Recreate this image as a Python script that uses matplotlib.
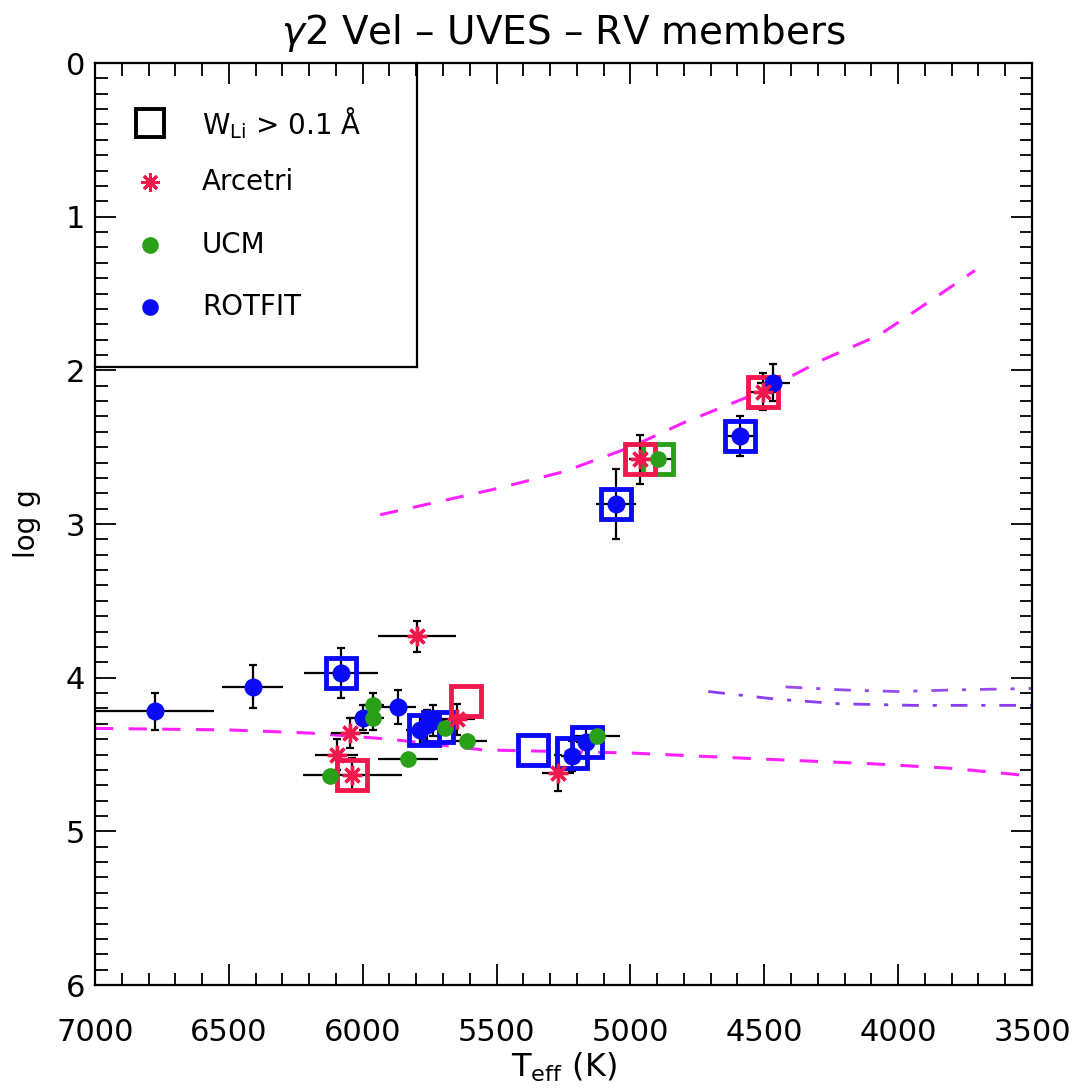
import numpy as np
import matplotlib
matplotlib.use("Agg")
import matplotlib.pyplot as plt

plt.rcParams['font.family'] = ['DejaVu Sans']

# Arcetri (red asterisks): Teff, logg, errors
arc_teff = [5798, 6047, 6097, 6039, 5649, 5270, 4964, 4506]
arc_logg = [3.73, 4.36, 4.50, 4.63, 4.27, 4.62, 2.58, 2.14]
arc_eteff = [145, 72, 81, 184, 68, 59, 40, 62]
arc_elogg = [0.10, 0.10, 0.10, 0.11, 0.10, 0.12, 0.16, 0.12]
arc_li_teff = [6039, 5614, 4964, 4506]
arc_li_logg = [4.63, 4.15, 2.58, 2.14]

# UCM (green circles)
ucm_teff = [5960, 5960, 6122, 5830, 5693, 5612, 5124, 4896]
ucm_logg = [4.18, 4.26, 4.64, 4.53, 4.33, 4.41, 4.38, 2.58]
ucm_eteff = [40, 40, 0, 112, 0, 75, 85, 56]
ucm_elogg = [0.08, 0.08, 0, 0, 0, 0, 0, 0]
ucm_li_teff = [4896]
ucm_li_logg = [2.58]

# ROTFIT (blue circles)
rot_teff = [6776, 6411, 6081, 5998, 5867, 5787, 5761, 5737, 5220, 5165, 5054, 4591, 4466]
rot_logg = [4.22, 4.06, 3.97, 4.26, 4.19, 4.34, 4.31, 4.28, 4.51, 4.42, 2.87, 2.43, 2.08]
rot_eteff = [220, 114, 138, 60, 65, 50, 40, 50, 40, 40, 75, 58, 62]
rot_elogg = [0.12, 0.14, 0.16, 0.08, 0.11, 0.10, 0.10, 0.10, 0.10, 0.10, 0.23, 0.13, 0.12]
rot_li_teff = [6081, 5772, 5718, 5363, 5220, 5163, 5054, 4591]
rot_li_logg = [3.97, 4.34, 4.32, 4.47, 4.49, 4.42, 2.87, 2.43]

# isochrone / track curves
giant_teff = [5935, 5500, 5250, 5000, 4800, 4500, 4280, 4070, 3856, 3713]
giant_logg = [2.94, 2.77, 2.66, 2.50, 2.34, 2.13, 1.93, 1.77, 1.52, 1.35]
ms_teff = [7000, 6500, 6200, 5900, 5550, 5000, 4500, 4100, 3800, 3500]
ms_logg = [4.33, 4.34, 4.36, 4.40, 4.47, 4.49, 4.53, 4.56, 4.59, 4.64]
pms1_teff = [4420, 4200, 4000, 3800, 3500]
pms1_logg = [4.06, 4.08, 4.09, 4.08, 4.07]
pms2_teff = [4709, 4454, 4217, 3943, 3500]
pms2_logg = [4.09, 4.14, 4.17, 4.18, 4.18]

RED = '#f0184c'
GREEN = '#2aa018'
BLUE = '#0a0af5'
AST = (8, 2, 0)

fig = plt.figure(figsize=(10.78, 10.90), dpi=100)
ax = fig.add_axes([0.0881, 0.0963, 0.8692, 0.8459])

ax.plot(giant_teff, giant_logg, color='#ff22ff', lw=2.2, dashes=(6, 5))
ax.plot(ms_teff, ms_logg, color='#ff22ff', lw=2.2, dashes=(6, 5))
dd = (0, (6, 5, 1.5, 5))
ax.plot(pms1_teff, pms1_logg, color='#9a4cf0', lw=2, linestyle=dd)
ax.plot(pms2_teff, pms2_logg, color='#8a3cf0', lw=2, linestyle=dd)

# x errors without caps, y errors with small caps
ex = dict(fmt='none', ecolor='black', elinewidth=1.6, capsize=0, zorder=3)
ey = dict(fmt='none', ecolor='black', elinewidth=1.6, capsize=3, capthick=1.6, zorder=3)
for t, g, et, eg in [(rot_teff, rot_logg, rot_eteff, rot_elogg),
                     (arc_teff, arc_logg, arc_eteff, arc_elogg),
                     (ucm_teff, ucm_logg, ucm_eteff, ucm_elogg)]:
    ax.errorbar(t, g, xerr=et, **ex)
    ax.errorbar(t, g, yerr=eg, **ey)

sq = dict(marker='s', ms=22, mfc='none', mew=3.5, ls='none', zorder=4)
ax.plot(rot_li_teff, rot_li_logg, mec=BLUE, **sq)
ax.plot(ucm_li_teff, ucm_li_logg, mec=GREEN, **sq)
ax.plot(arc_li_teff, arc_li_logg, mec=RED, **sq)

ax.plot(rot_teff, rot_logg, 'o', color=BLUE, ms=13, mew=0, zorder=5)
ax.plot(ucm_teff, ucm_logg, 'o', color=GREEN, ms=12, mew=0, zorder=5)
ax.plot(arc_teff, arc_logg, ls='none', marker=AST, ms=14, mec=RED, mew=2.4, zorder=6)

ax.set_xlim(7000, 3500)
ax.set_ylim(6, 0)
ax.set_xticks(np.arange(3500, 7001, 500))
ax.set_xticks(np.arange(3500, 7001, 100), minor=True)
ax.set_yticks(np.arange(0, 7, 1))
ax.set_yticks(np.arange(0, 6.01, 0.1), minor=True)
ax.tick_params(which='both', direction='in', top=True, right=True, width=1.3, labelsize=22)
ax.tick_params(which='major', length=15)
ax.tick_params(which='minor', length=9)
ax.tick_params(axis='x', pad=24)
ax.tick_params(axis='y', pad=7)
for s in ax.spines.values():
    s.set_linewidth(1.6)

ax.set_xlabel(r'T$_{\rm eff}$ (K)', fontsize=23, labelpad=2)
ax.set_ylabel('log g', fontsize=20, labelpad=18)
ax.set_title(r'$\gamma$2 Vel – UVES – RV members', fontsize=28, pad=14)

# legend box
tr = ax.transAxes
ax.plot([0.3437, 0.3437], [1, 0.670], color='black', lw=1.6, transform=tr, clip_on=False)
ax.plot([0, 0.3437], [0.670, 0.670], color='black', lw=1.6, transform=tr, clip_on=False)
mx, tx = 0.0587, 0.114
ax.plot(mx, 0.935, 's', ms=20, mfc='none', mec='black', mew=2.8, transform=tr)
ax.plot(mx, 0.871, ls='none', marker=AST, ms=13, mec=RED, mew=2.2, transform=tr)
ax.plot(mx, 0.803, 'o', color=GREEN, ms=12, mew=0, transform=tr)
ax.plot(mx, 0.735, 'o', color=BLUE, ms=12, mew=0, transform=tr)
ax.text(tx, 0.935, r'W$_{\rm Li}$ > 0.1 Å', fontsize=20, va='center', transform=tr)
ax.text(tx, 0.871, 'Arcetri', fontsize=20, va='center', transform=tr)
ax.text(tx, 0.803, 'UCM', fontsize=20, va='center', transform=tr)
ax.text(tx, 0.735, 'ROTFIT', fontsize=20, va='center', transform=tr)

fig.savefig('out.png', dpi=100)
